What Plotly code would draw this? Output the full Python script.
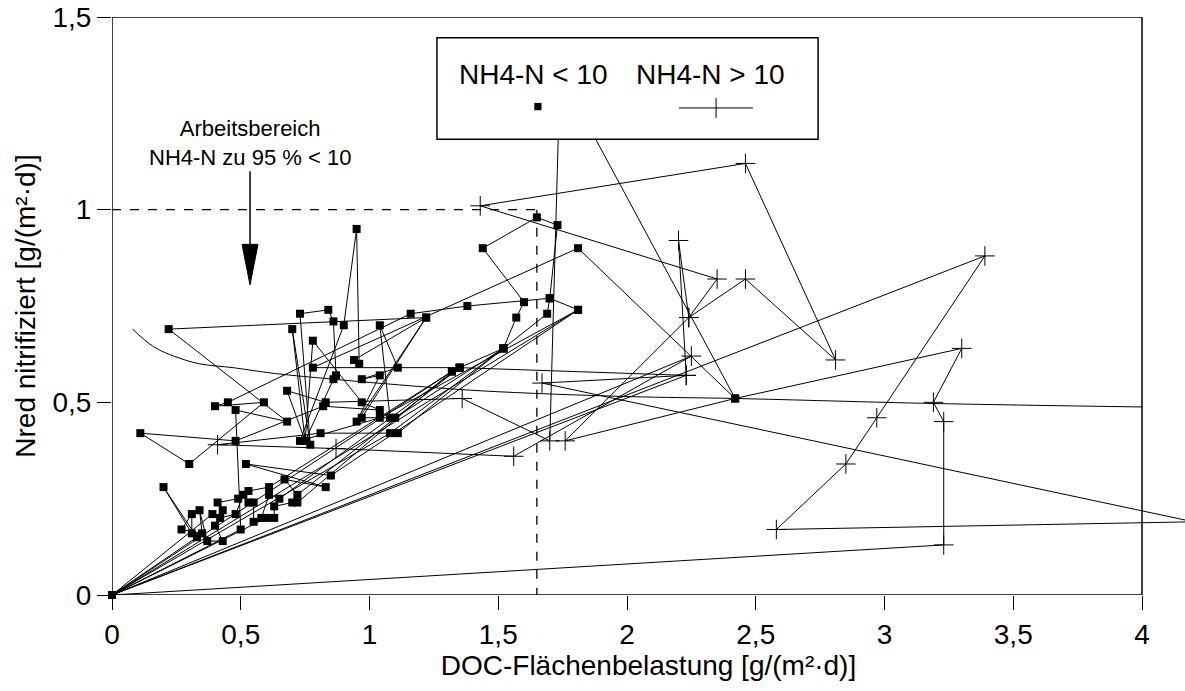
import plotly.graph_objects as go

# Measurement sequence: DOC surface load vs. nitrified N, in measuring order.
# nh4_high = 1 marks days with NH4-N > 10, 0 marks NH4-N < 10.
doc = [
    0.00, 0.33, 0.20, 0.31, 0.31, 0.27, 0.35, 0.34, 0.37, 0.43, 0.40, 0.43, 0.41, 0.49, 0.53, 0.61, 1.32, 0.00,
    0.39, 0.42, 0.48, 0.51, 0.53, 0.55, 0.55, 0.58, 0.61, 0.65, 1.35, 1.52, 1.08, 0.00,
    0.60, 0.63, 0.63, 0.70, 0.72, 1.32, 1.35, 0.72, 0.67, 0.83, 0.52, 0.85, 1.81, 0.00,
    0.50, 0.48, 0.68, 0.22, 1.22, 0.97, 1.10, 1.52, 1.57, 1.60, 1.44, 1.65, 1.73, 1.70, 1.69, 1.52, 1.11, 0.81,
    0.41, 0.87, 1.56, 2.25, 0.00,
    2.23, 1.67, 4.20, 2.58, 2.85, 2.97, 3.39, 0.00, 3.23, 3.23, 3.19, 3.30, 2.42, 1.76, 2.24, 2.46, 2.81, 2.46,
    1.43, 2.35, 2.24, 2.20, 2.23, 1.35, 0.78, 1.81, 2.42, 1.74, 1.70, 1.36,
    0.83, 0.68, 0.75, 0.70, 0.77, 0.73, 0.84, 0.86, 0.87, 0.86, 0.75, 0.78, 0.97, 1.04, 0.82, 0.48, 0.11, 0.30,
    0.59, 0.40, 0.45, 1.16, 1.38, 1.70, 1.81, 1.04, 0.73, 0.90, 0.95, 0.96, 0.94, 1.22, 0.95, 1.04, 0.97, 1.11,
    1.04, 1.08,
]
nred = [
    0.00, 0.15, 0.28, 0.16, 0.21, 0.17, 0.16, 0.22, 0.14, 0.14, 0.18, 0.22, 0.24, 0.25, 0.27, 0.28, 0.58, 0.00,
    0.21, 0.20, 0.21, 0.26, 0.24, 0.24, 0.19, 0.20, 0.26, 0.25, 0.59, 0.64, 0.42, 0.00,
    0.20, 0.20, 0.23, 0.24, 0.24, 0.58, 0.59, 0.26, 0.30, 0.28, 0.34, 0.31, 0.74, 0.00,
    0.17, 0.48, 0.45, 0.69, 0.72, 0.46, 0.46, 0.64, 0.72, 0.76, 0.90, 0.98, 0.96, 0.77, 0.73, 0.64, 0.42, 0.42,
    0.39, 0.38, 0.36, 0.62, 0.00,
    0.57, 0.55, 0.19, 0.17, 0.34, 0.46, 0.88, 0.00, 0.13, 0.45, 0.50, 0.64, 0.51, 0.40, 0.72, 0.82, 0.61, 1.12,
    1.01, 0.82, 0.72, 0.92, 0.57, 0.59, 0.59, 0.90, 0.51, 1.355, 0.40, 0.51,
    0.50, 0.53, 0.40, 0.69, 0.39, 0.73, 0.74, 0.71, 0.57, 0.56, 0.40, 0.66, 0.50, 0.48, 0.49, 0.40, 0.42, 0.34,
    0.50, 0.49, 0.50, 0.73, 0.75, 0.77, 0.74, 0.46, 0.40, 0.70, 0.95, 0.60, 0.61, 0.72, 0.45, 0.57, 0.56, 0.59,
    0.70, 0.46,
]
nh4_high = [
    0, 0, 0, 0, 0, 0, 0, 0, 0, 0, 0, 0, 0, 0, 0, 0, 0, 0,
    0, 0, 0, 0, 0, 0, 0, 0, 0, 0, 0, 0, 0, 0,
    0, 0, 0, 0, 0, 0, 0, 0, 0, 0, 0, 0, 0, 0,
    0, 0, 0, 0, 0, 0, 0, 0, 0, 0, 0, 0, 0, 0, 0, 0, 0, 0,
    1, 1, 1, 1, 0,
    1, 1, 1, 1, 1, 1, 1, 0, 1, 1, 1, 1, 0, 1, 1, 1, 1, 1,
    1, 1, 1, 1, 1, 0, 0, 0, 0, 1, 1, 1,
    0, 0, 0, 0, 0, 0, 0, 0, 0, 0, 0, 0, 0, 0, 0, 0, 0, 0,
    0, 0, 0, 0, 0, 0, 0, 0, 0, 0, 0, 0, 0, 0, 0, 0, 0, 0,
    0, 0,
]

# Smooth reference curve
curve_x = [0.08, 0.16, 0.24, 0.34, 0.47, 0.63, 0.86, 1.03, 1.43, 2.00, 2.42, 3.19, 4.00]
curve_y = [0.69, 0.645, 0.62, 0.60, 0.59, 0.575, 0.56, 0.55, 0.53, 0.515, 0.51, 0.497, 0.488]

x_ticks = [0, 0.5, 1, 1.5, 2, 2.5, 3, 3.5, 4]
x_tick_text = ["0", "0,5", "1", "1,5", "2", "2,5", "3", "3,5", "4"]
y_ticks = [0, 0.5, 1, 1.5]
y_tick_text = ["0", "0,5", "1", "1,5"]

FONT = "Liberation Sans, Arial, sans-serif"

sq_x = [x for x, h in zip(doc, nh4_high) if not h]
sq_y = [y for y, h in zip(nred, nh4_high) if not h]
pl_x = [x for x, h in zip(doc, nh4_high) if h]
pl_y = [y for y, h in zip(nred, nh4_high) if h]

fig = go.Figure()
fig.add_trace(go.Scatter(x=doc, y=nred, mode="lines",
                         line=dict(color="black", width=1), hoverinfo="skip", showlegend=False))
fig.add_trace(go.Scatter(x=curve_x, y=curve_y, mode="lines",
                         line=dict(color="black", width=1, shape="spline"), hoverinfo="skip", showlegend=False))
fig.add_trace(go.Scatter(x=sq_x, y=sq_y, mode="markers", cliponaxis=False,
                         marker=dict(symbol="square", size=8, color="black"), showlegend=False))
fig.add_trace(go.Scatter(x=pl_x, y=pl_y, mode="markers", cliponaxis=False,
                         marker=dict(symbol="cross-thin", size=14, color="black",
                                     line=dict(width=1, color="black")), showlegend=False))

shapes = [
    # working range guides
    dict(type="line", xref="x", yref="y", x0=0, y0=1.0, x1=1.65, y1=1.0,
         line=dict(color="black", width=1.3, dash="dash"), layer="above"),
    dict(type="line", xref="x", yref="y", x0=1.65, y0=1.0, x1=1.65, y1=0,
         line=dict(color="black", width=1.3, dash="dash"), layer="above"),
    # arrow
    dict(type="line", xref="x", yref="y", x0=0.536, y0=1.10, x1=0.536, y1=0.905,
         line=dict(color="black", width=1.5), layer="above"),
    dict(type="path", xref="x", yref="y", path="M 0.505 0.91 L 0.567 0.91 L 0.536 0.805 Z",
         fillcolor="black", line=dict(color="black", width=1), layer="above"),
    # frame
    dict(type="rect", xref="x", yref="y", x0=0, y0=0, x1=4, y1=1.5,
         line=dict(color="black", width=1.5), fillcolor="rgba(0,0,0,0)", layer="above"),
    # legend box
    dict(type="rect", xref="x", yref="y", x0=1.262, y0=1.183, x1=2.742, y1=1.446,
         line=dict(color="black", width=1.5), fillcolor="white", layer="above"),
    dict(type="rect", xref="x", yref="y", x0=1.640, y0=1.258, x1=1.668, y1=1.277,
         line=dict(color="black", width=0), fillcolor="black", layer="above"),
    dict(type="line", xref="x", yref="y", x0=2.202, y0=1.264, x1=2.489, y1=1.264,
         line=dict(color="black", width=1), layer="above"),
    dict(type="line", xref="x", yref="y", x0=2.346, y0=1.238, x1=2.346, y1=1.290,
         line=dict(color="black", width=1), layer="above"),
]

annotations = [
    dict(x=0.536, y=1.173, xref="x", yref="y", showarrow=False, align="center",
         text="Arbeitsbereich<br>NH4-N zu 95 % &lt; 10",
         font=dict(family=FONT, size=22, color="black")),
    dict(x=1.635, y=1.352, xref="x", yref="y", showarrow=False,
         text="NH4-N &lt; 10", font=dict(family=FONT, size=28, color="black")),
    dict(x=2.326, y=1.352, xref="x", yref="y", showarrow=False,
         text="NH4-N &gt; 10", font=dict(family=FONT, size=28, color="black")),
]

axis_common = dict(showgrid=False, zeroline=False, showline=False, ticks="outside",
                   ticklen=14, tickwidth=1, tickcolor="black",
                   tickfont=dict(family=FONT, size=28, color="black"))

fig.update_layout(
    width=1185, height=691,
    margin=dict(l=112, r=0, t=17, b=96),
    paper_bgcolor="white", plot_bgcolor="white",
    showlegend=False,
    shapes=shapes, annotations=annotations,
    xaxis=dict(range=[0, 4.167], tickvals=x_ticks, ticktext=x_tick_text,
               title=dict(text="DOC-Flächenbelastung [g/(m²·d)]", standoff=4,
                          font=dict(family=FONT, size=28, color="black")),
               **axis_common),
    yaxis=dict(range=[0, 1.5], tickvals=y_ticks, ticktext=y_tick_text,
               title=dict(text="Nred nitrifiziert [g/(m²·d)]", standoff=8,
                          font=dict(family=FONT, size=28, color="black")),
               **axis_common),
)

fig.write_html("out.html")
